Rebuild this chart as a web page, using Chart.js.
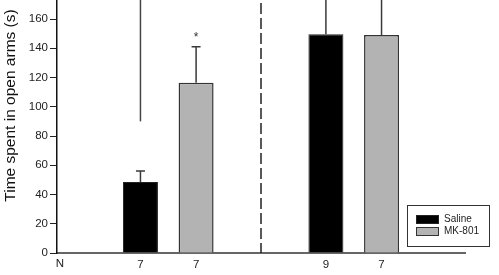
<!DOCTYPE html>
<html>
<head>
<meta charset="utf-8">
<script src="https://cdn.jsdelivr.net/npm/chart.js@4.4.0/dist/chart.umd.min.js"></script>
<style>
html, body { margin: 0; padding: 0; background: #fff; }
#wrap { width: 499px; height: 275px; }
</style>
</head>
<body>
<div id="wrap"><canvas id="openArmsChart"></canvas></div>
<script>
// values (seconds)
var salineMeans = [48.5, 149.5];
var salineErrors = [7.5, 60];
var mk801Means = [116.5, 149];
var mk801Errors = [24.5, 50];
var animalCounts = ['7', '7', '9', '7'];   // saline, MK-801, saline, MK-801
var significance = ['*', ''];
var strayLine = [90, 200];                  // line left over above the first saline bar
var yTicks = [0, 20, 40, 60, 80, 100, 120, 140, 160];

// where the bars sit on the category axis
var slotCount = 22;
var barSlots = [4, 7, 14, 17];

function emptySlots() { return new Array(slotCount).fill(null); }

var labels = new Array(slotCount).fill('');
var salineData = emptySlots(), salineErr = emptySlots();
var mk801Data = emptySlots(), mk801Err = emptySlots(), mk801Stars = emptySlots();
var strayData = emptySlots();

for (var g = 0; g < salineMeans.length; g++) {
    salineData[barSlots[g * 2]] = salineMeans[g];
    salineErr[barSlots[g * 2]] = salineErrors[g];
    mk801Data[barSlots[g * 2 + 1]] = mk801Means[g];
    mk801Err[barSlots[g * 2 + 1]] = mk801Errors[g];
    mk801Stars[barSlots[g * 2 + 1]] = significance[g];
}
animalCounts.forEach(function (n, i) { labels[barSlots[i]] = n; });
strayData[barSlots[0]] = strayLine;

var FONT = "'Liberation Sans', Arial, sans-serif";

// error bars (upper only) plus significance marks
var errorBarPlugin = {
    id: 'errorBars',
    afterDatasetsDraw: function (chart) {
        var ctx = chart.ctx;
        var y = chart.scales.y;
        chart.data.datasets.forEach(function (ds, di) {
            if (!ds.errors) return;
            var meta = chart.getDatasetMeta(di);
            meta.data.forEach(function (bar, i) {
                var v = ds.data[i], e = ds.errors[i];
                if (v == null || e == null) return;
                var top = y.getPixelForValue(v + e);
                ctx.save();
                ctx.strokeStyle = '#3a3a3a';
                ctx.lineWidth = 1.5;
                ctx.beginPath();
                ctx.moveTo(bar.x, bar.y);
                ctx.lineTo(bar.x, top);
                ctx.moveTo(bar.x - 4.5, top);
                ctx.lineTo(bar.x + 4.5, top);
                ctx.stroke();
                if (ds.stars && ds.stars[i]) {
                    ctx.fillStyle = '#333';
                    ctx.font = '12px ' + FONT;
                    ctx.textAlign = 'center';
                    ctx.textBaseline = 'middle';
                    ctx.fillText(ds.stars[i], bar.x, top - 9);
                }
                ctx.restore();
            });
        });
    }
};

// dashed separator, legend box, "N" and y title
var decorPlugin = {
    id: 'decor',
    afterDraw: function (chart) {
        var ctx = chart.ctx;
        var area = chart.chartArea;
        var x = chart.scales.x;

        var sepX = (x.getPixelForValue(barSlots[1]) + x.getPixelForValue(barSlots[2])) / 2;
        ctx.save();
        ctx.strokeStyle = '#222';
        ctx.lineWidth = 1.5;
        ctx.setLineDash([11, 4]);
        ctx.beginPath();
        ctx.moveTo(sepX, area.top + 3);
        ctx.lineTo(sepX, area.bottom);
        ctx.stroke();
        ctx.restore();

        // legend
        var bx = area.right - 58, by = area.bottom - 48, bw = 82, bh = 41;
        ctx.save();
        ctx.fillStyle = '#fff';
        ctx.fillRect(bx, by, bw, bh);
        ctx.strokeStyle = '#333';
        ctx.lineWidth = 1;
        ctx.strokeRect(bx + 0.5, by + 0.5, bw, bh);
        var items = chart.data.datasets.filter(function (d) { return d.inLegend; });
        items.forEach(function (d, i) {
            var iy = by + 10 + i * 12;
            ctx.fillStyle = d.backgroundColor;
            ctx.fillRect(bx + 9, iy, 23, 9);
            ctx.strokeStyle = d.borderColor;
            ctx.lineWidth = 1;
            ctx.strokeRect(bx + 9.5, iy + 0.5, 22, 8);
            ctx.fillStyle = '#222';
            ctx.font = '10px ' + FONT;
            ctx.textAlign = 'left';
            ctx.textBaseline = 'middle';
            ctx.fillText(d.label, bx + 37, iy + 4.5);
        });

        // "N" row label
        ctx.fillStyle = '#222';
        ctx.font = '11.5px ' + FONT;
        ctx.textAlign = 'center';
        ctx.textBaseline = 'top';
        ctx.fillText('N', area.left + 3, area.bottom + 5);

        // y axis title
        ctx.translate(10.5, 105.5);
        ctx.rotate(-Math.PI / 2);
        ctx.fillStyle = '#111';
        ctx.font = '15.5px ' + FONT;
        ctx.textAlign = 'center';
        ctx.textBaseline = 'middle';
        ctx.fillText('Time spent in open arms (s)', 0, 0);
        ctx.restore();
    }
};

var ctx = document.getElementById('openArmsChart').getContext('2d');
var openArmsChart = new Chart(ctx, {
    type: 'bar',
    data: {
        labels: labels,
        datasets: [{
            label: 'Saline',
            data: salineData,
            errors: salineErr,
            inLegend: true,
            backgroundColor: '#000000',
            borderColor: '#222222',
            borderWidth: 1
        }, {
            label: 'MK-801',
            data: mk801Data,
            errors: mk801Err,
            stars: mk801Stars,
            inLegend: true,
            backgroundColor: '#b3b3b3',
            borderColor: '#333333',
            borderWidth: 1.5
        }, {
            label: 'stray',
            data: strayData,
            backgroundColor: '#444444',
            maxBarThickness: 1.5
        }]
    },
    options: {
        responsive: true,
        maintainAspectRatio: false,
        animation: false,
        layout: {
            padding: { left: 0, right: 34, top: 0, bottom: 0 }
        },
        datasets: {
            bar: {
                grouped: false,
                categoryPercentage: 1,
                barPercentage: 1.887
            }
        },
        plugins: {
            legend: { display: false },
            tooltip: { enabled: false }
        },
        scales: {
            x: {
                grid: { display: false, drawTicks: false },
                border: { display: true, color: '#666666', width: 2 },
                ticks: {
                    autoSkip: false,
                    maxRotation: 0,
                    padding: 5,
                    color: '#222',
                    font: { family: FONT, size: 11.5 }
                },
                afterFit: function (scale) { scale.height = 22; }
            },
            y: {
                min: 0,
                max: 173,
                afterBuildTicks: function (scale) {
                    scale.ticks = yTicks.map(function (v) { return { value: v }; });
                },
                grid: {
                    drawOnChartArea: false,
                    drawTicks: true,
                    tickLength: 7,
                    color: '#222',
                    lineWidth: 1
                },
                border: { display: true, color: '#111111', width: 1.5 },
                ticks: {
                    padding: 2,
                    color: '#222',
                    font: { family: FONT, size: 11.5 }
                },
                afterFit: function (scale) {
                    scale.width = 57;
                    scale.paddingTop = 0;
                    scale.paddingBottom = 0;
                }
            }
        }
    },
    plugins: [errorBarPlugin, decorPlugin]
});
</script>
</body>
</html>
